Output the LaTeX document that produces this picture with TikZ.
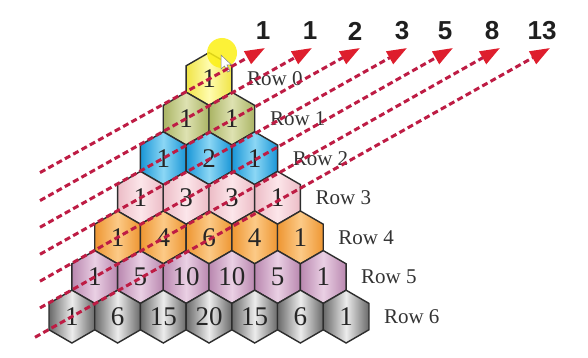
\documentclass[tikz,border=0pt]{standalone}
\usepackage{fontspec}
\setmainfont{Liberation Serif}
\newfontfamily\hdrfont{Liberation Sans}
\usetikzlibrary{shapes.geometric,arrows.meta}
\definecolor{yelE}{RGB}{240,228,70}
\definecolor{yelM}{RGB}{255,252,175}
\definecolor{grnE}{RGB}{170,180,100}
\definecolor{grnM}{RGB}{222,226,178}
\definecolor{bluE}{RGB}{25,150,215}
\definecolor{bluM}{RGB}{140,215,245}
\definecolor{pnkE}{RGB}{236,188,198}
\definecolor{pnkM}{RGB}{252,230,234}
\definecolor{orgE}{RGB}{238,150,50}
\definecolor{orgM}{RGB}{252,202,135}
\definecolor{mauE}{RGB}{185,135,175}
\definecolor{mauM}{RGB}{234,208,228}
\definecolor{gryE}{RGB}{105,105,105}
\definecolor{gryM}{RGB}{236,236,236}
\definecolor{lineRed}{RGB}{190,28,68}
\definecolor{tipRed}{RGB}{222,30,45}
\definecolor{hexEdge}{RGB}{45,45,45}
\definecolor{dotYel}{RGB}{252,240,20}
\tikzset{
  hexbox/.style={regular polygon, regular polygon sides=6, shape border rotate=30,
    minimum size=52.8pt, inner sep=0pt, draw=hexEdge, line width=1.4pt,
    font=\fontsize{27}{27}\selectfont, text=black!85},
  rowlbl/.style={anchor=west, inner sep=0pt, font=\fontsize{21}{21}\selectfont, text=black!80},
  hdr/.style={inner sep=0pt, font=\hdrfont\bfseries\fontsize{26}{26}\selectfont, text=black!88},
  fibline/.style={draw=lineRed, line width=3pt, dash pattern=on 6pt off 3.5pt,
    -{Triangle[length=20pt,width=14pt,color=tipRed]}}
}
\begin{document}
\begin{tikzpicture}[x=1pt,y=-1pt]
\useasboundingbox[fill=white] (0,0) rectangle (588,358);
% hexagons
\foreach \r/\E/\M/\vals in {0/yelE/yelM/{1},1/grnE/grnM/{1,1},2/bluE/bluM/{1,2,1},
   3/pnkE/pnkM/{1,3,3,1},4/orgE/orgM/{1,4,6,4,1},5/mauE/mauM/{1,5,10,10,5,1},
   6/gryE/gryM/{1,6,15,20,15,6,1}} {
  \foreach \v [count=\k from 0] in \vals {
    \node[hexbox, left color=\E, right color=\E, middle color=\M] (h\r-\k)
      at ({209+(2*\k-\r)*22.85},{79+\r*39.6}) {\v};
  }
  \node[rowlbl] (row\r) at ({247+\r*22.8},{79+\r*39.6}) {Row \r};
}
% yellow highlight and cursor
\fill[dotYel, opacity=0.85] (222,53) circle (15);
\filldraw[fill=white, draw=black!50, line width=0.5pt] (221,55) -- (221,69) -- (224.5,66) -- (227.5,72)
  -- (230,71) -- (227,65) -- (231.5,65) -- cycle;
% header numbers
\foreach \i/\x/\t in {1/263/1,2/310/1,3/355/2,4/402/3,5/445/5,6/492/8,7/542/13}{
  \node[hdr] (n\i) at (\x,31) {\t};
}
% line coordinates
\coordinate (s1) at (40,172.6);  \coordinate (t1) at (265,48);
\coordinate (s2) at (40,200.6);  \coordinate (t2) at (312,48);
\coordinate (s3) at (40,227.3);  \coordinate (t3) at (360,48);
\coordinate (s4) at (40,254.3);  \coordinate (t4) at (407,48);
\coordinate (s5) at (40,281.2);  \coordinate (t5) at (453,48);
\coordinate (s6) at (40,307.9);  \coordinate (t6) at (500,48);
\coordinate (s7) at (35,337.3);  \coordinate (t7) at (550,48);
\foreach \i in {1,...,7}{
  \draw[fibline] (s\i) -- (t\i);
}
\end{tikzpicture}
\end{document}
